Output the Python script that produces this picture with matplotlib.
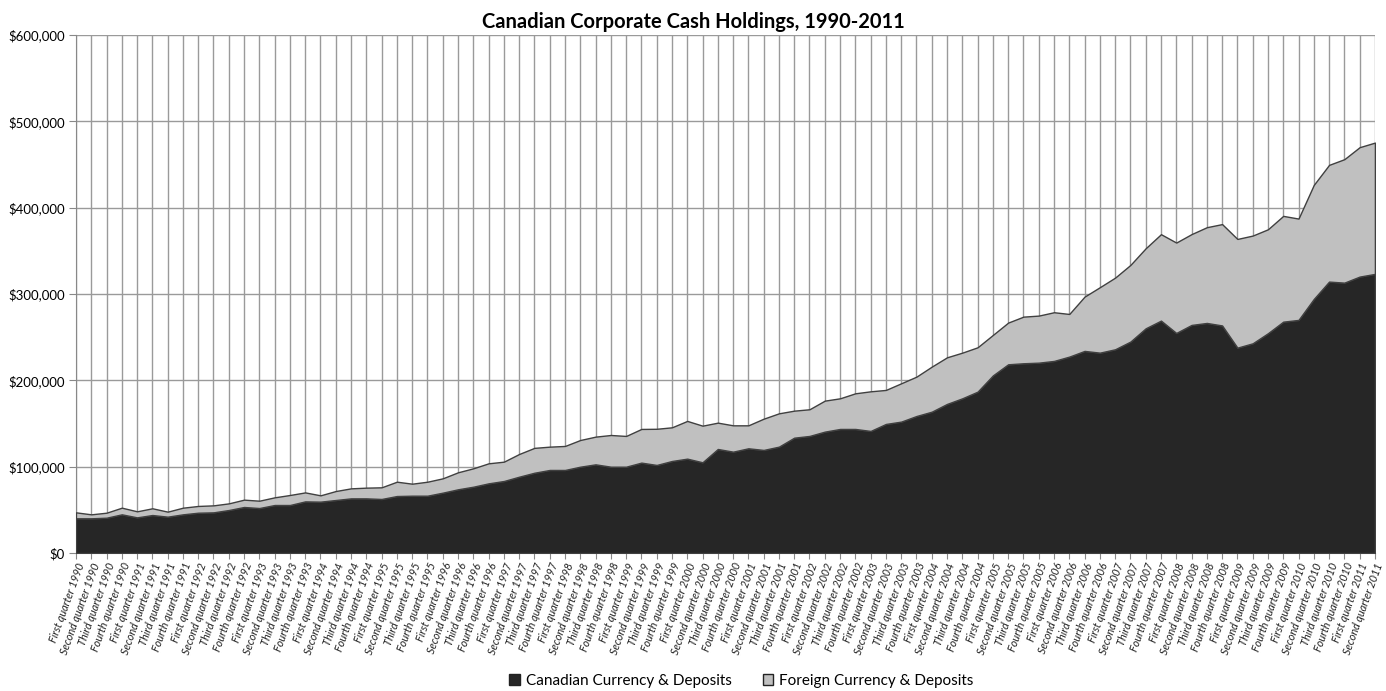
import matplotlib
matplotlib.use("Agg")
import matplotlib.pyplot as plt
from matplotlib.patches import Patch
from matplotlib.ticker import FuncFormatter, MultipleLocator

# Quarters, First quarter 1990 to Second quarter 2011
quarter_names = ["First", "Second", "Third", "Fourth"]
years = list(range(1990, 2012))
quarters = [f"{q} quarter {y}" for y in years for q in quarter_names][:86]

# Values in thousands (axis shows $ x 1,000)
canadian = [40.2, 40.2, 40.9, 44.8, 41.3, 44.0, 42.1, 44.8, 46.7, 47.1,
            49.8, 53.3, 52.1, 55.6, 55.6, 59.8, 59.5, 61.4, 63.3, 63.3,
            62.6, 66.0, 66.4, 66.4, 69.9, 73.8, 76.8, 80.7, 83.4, 88.4,
            93.0, 96.2, 96.2, 100.0, 102.7, 100.0, 100.0, 104.7, 102.0, 106.6,
            109.3, 105.1, 120.5, 117.4, 121.3, 119.4, 123.2, 133.6, 135.6, 140.6,
            143.7, 143.7, 141.4, 149.5, 152.2, 158.7, 163.7, 172.7, 179.2, 186.9,
            205.7, 218.6, 219.8, 220.5, 222.5, 227.5, 234.1, 232.1, 236.0, 244.9,
            260.3, 269.2, 254.9, 264.2, 266.5, 263.6, 237.9, 242.9, 254.6, 268.0,
            270.0, 294.3, 314.4, 313.2, 320.2, 323.3]
foreign = [6.9, 4.6, 5.8, 7.7, 7.0, 7.8, 5.8, 7.7, 7.8, 8.1,
           7.7, 8.5, 8.5, 8.9, 11.6, 10.4, 7.3, 10.4, 11.6, 12.4,
           13.5, 16.6, 13.9, 16.2, 16.6, 19.7, 21.3, 23.2, 22.4, 26.3,
           28.8, 27.0, 27.8, 30.9, 32.1, 36.7, 35.6, 39.0, 41.9, 39.0,
           43.7, 42.4, 30.5, 30.5, 26.6, 36.2, 38.6, 31.3, 30.9, 35.9,
           35.5, 41.3, 45.9, 39.4, 44.4, 45.6, 52.2, 54.0, 52.9, 51.4,
           46.9, 48.3, 54.0, 54.5, 56.4, 49.4, 62.9, 75.8, 83.0, 88.8,
           92.7, 100.1, 104.7, 105.2, 110.9, 117.4, 125.9, 124.8, 120.4, 122.5,
           117.4, 132.1, 135.2, 143.0, 149.9, 152.1]

dark = "#262626"
light = "#c0c0c0"
grid_c = "#9a9a9a"

fig = plt.figure(figsize=(13.86, 6.91), dpi=100)
ax = fig.add_axes([0.0548, 0.1997, 0.9372, 0.7496])

x = list(range(len(quarters)))
ax.stackplot(x, canadian, foreign, colors=[dark, light],
             edgecolor="#404040", linewidth=1.0, zorder=3)

ax.set_xlim(0, len(quarters) - 1)
ax.set_ylim(0, 600)
ax.yaxis.set_major_locator(MultipleLocator(100))
ax.yaxis.set_major_formatter(FuncFormatter(lambda v, _: f"${v * 1000:,.0f}"))

ax.set_xticks(x)
ax.set_xticklabels(quarters, rotation=70, ha="right", rotation_mode="anchor",
                   fontsize=7.8, fontstyle="italic", family="Lato", color="#222222")
for lab in ax.get_yticklabels():
    lab.set_family("Lato")
    lab.set_fontsize(9.5)

ax.grid(True, axis="both", color=grid_c, linewidth=1.0)
ax.set_axisbelow(True)
for side in ["top", "right"]:
    ax.spines[side].set_visible(False)
ax.spines["left"].set_color("#888888")
ax.spines["bottom"].set_color("#888888")
ax.tick_params(axis="x", length=4, color="#888888", pad=2)
ax.tick_params(axis="y", length=5, color="#888888", pad=3)

fig.suptitle("Canadian Corporate Cash Holdings, 1990-2011", y=0.982,
             fontsize=14.5, fontweight="bold", family="Lato")

handles = [Patch(facecolor=dark, edgecolor="#222222", label="Canadian Currency & Deposits"),
           Patch(facecolor=light, edgecolor="#222222", label="Foreign Currency & Deposits")]
fig.legend(handles=handles, loc="lower center", bbox_to_anchor=(0.535, -0.015), ncol=2,
           frameon=False, prop={"family": "Lato", "size": 11},
           handlelength=0.7, handleheight=0.7, handletextpad=0.4, columnspacing=2.0)

fig.savefig("out.png", dpi=100)
